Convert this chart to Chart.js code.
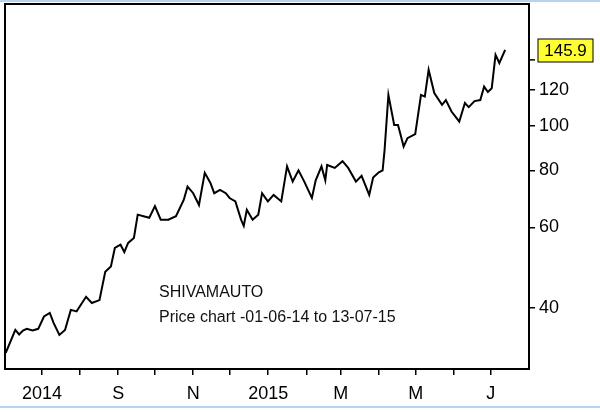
<!DOCTYPE html>
<html><head><meta charset="utf-8">
<script src="https://cdn.jsdelivr.net/npm/chart.js@4"></script>
<style>html,body{margin:0;padding:0;background:#fff}#w{width:600px;height:412px;position:relative}</style>
</head><body><div id="w"><canvas id="c" width="600" height="412"></canvas></div>
<script>
const days=[0.6,8.4,11.5,14.6,17.7,22.4,27,31.7,36.4,39.5,44.2,48.8,53.5,58.2,65.9,70.6,76.8,81.5,86.1,89.3,93.9,97,100.1,104.8,107.9,112.6,117.3,121.9,126.6,132.8,139,145.3,148.4,153,157.7,162.4,167,170.1,174.8,179.5,182.6,187.3,191.9,194.1,196.6,201.3,205.9,209,213.7,218.4,224.6,229.3,233.9,238.6,243.3,249.5,252.6,257.3,260.4,261.9,268.1,274.4,279,285.3,289.9,296.1,299.3,303.9,307,308.6,311.7,316.4,319.5,324.1,327.2,333.5,338.2,341.3,344.4,349,355.3,358.4,363,366.2,369.3,373.9,377,381.7,386.4,389.5,392.6,395.7,398.8,401.9,406.6];
const prices=[31.9,35.8,35,35.7,36,35.7,36,38.3,39,37.1,34.9,35.8,39.6,39.3,42.3,41,41.6,48,49.3,54.1,55,53,55.5,56.9,64,63.5,63,66.8,62.4,62.4,63.5,68.9,73.7,71.3,67.2,79,75.1,71.3,72.5,71.3,69.6,68.4,62.4,60.5,65.6,62.4,64,71.3,68.4,70.7,68.4,81.6,75.6,80,75.6,69.6,76.1,81.6,76.1,82.2,81,83.8,81,75.6,77.8,70.7,77.2,79.2,80,88.7,117,100.6,100.6,90.2,94.1,96,117,116,132.8,118.1,111.3,114,107.6,104.9,102.3,112.3,110,113.4,114,122,118.7,121,143.2,137.4,146.8];
const monthDays=[30,61,92,122,153,183,214,245,273,304,334,365,395];
const monthLabels=['2014','','S','','N','','2015','','M','','M','','J'];
const yTicks=[40,60,80,100,120];
const lastLabel='145.9';
const lastTickVal=139.6;
const title1='SHIVAMAUTO', title2='Price chart -01-06-14 to 13-07-15';
const F='"Liberation Sans", Arial, sans-serif';
const deco={id:'deco',afterDraw(ch){const c=ch.ctx,a=ch.chartArea;c.save();
c.strokeStyle='#000';c.lineWidth=2;c.strokeRect(a.left,a.top,a.right-a.left,a.bottom-a.top);
const y=ch.scales.y.getPixelForValue(lastTickVal);
c.beginPath();c.moveTo(a.right,y);c.lineTo(a.right+6,y);c.lineWidth=1.5;c.stroke();
c.fillStyle='#ffff33';c.fillRect(538,39,55,23);c.lineWidth=1;c.strokeRect(538,39,55,23);
c.fillStyle='#000';c.font='17px '+F;c.textBaseline='middle';c.textAlign='center';c.fillText(lastLabel,565.5,51);
c.textAlign='left';c.font='16px '+F;c.fillStyle='#111';c.fillText(title1,159,293);c.fillText(title2,159,318);
c.fillStyle='#b8d3ee';c.fillRect(0,0,600,2);c.fillRect(0,406,600,2);
c.restore();}};
const ch=new Chart(document.getElementById('c'),{type:'line',
data:{datasets:[{data:days.map((d,i)=>({x:d,y:prices[i]})),borderColor:'#000',borderWidth:2,pointRadius:0,tension:0}]},
options:{responsive:false,animation:false,layout:{padding:{left:5,top:4,right:0,bottom:0}},
plugins:{legend:{display:false},tooltip:{enabled:false}},
scales:{
x:{type:'linear',min:0,max:426,afterBuildTicks(s){s.ticks=monthDays.map(v=>({value:v}));},
afterFit(s){s.height=43;},
ticks:{autoSkip:false,maxRotation:0,padding:8,color:'#000',font:{family:F,size:18},callback(v,i){return monthLabels[i];}},
grid:{drawOnChartArea:false,tickLength:6,color:'#000',lineWidth:1.5},border:{display:false}},
y:{type:'logarithmic',position:'right',min:29.4,max:185,afterBuildTicks(s){s.ticks=yTicks.map(v=>({value:v}));},
afterFit(s){s.width=71;s.paddingTop=0;s.paddingBottom=0;},
ticks:{padding:4,color:'#000',font:{family:F,size:18},callback(v){return String(v);}},
grid:{drawOnChartArea:false,tickLength:6,color:'#000',lineWidth:1.5},border:{display:false}}}},
plugins:[deco]});
if(ch.chartArea.top>6){ch.options.layout.padding.top=4-(ch.chartArea.top-4);ch.update();}
</script></body></html>
